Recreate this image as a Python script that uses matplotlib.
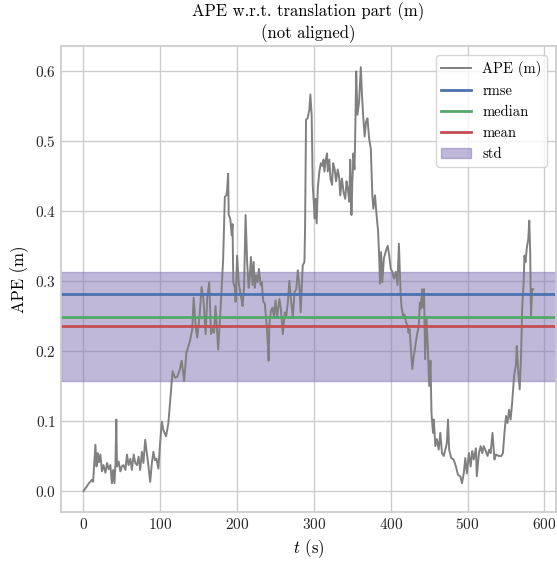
import matplotlib
matplotlib.use("Agg")
import matplotlib.pyplot as plt
import numpy as np

# timestamps (s) and absolute pose error (m)
t = [0, 4, 7, 11, 12.5, 15.5, 17, 18.6, 20, 22, 24, 26, 28.5, 30.7, 32.8, 35, 37, 38.6, 40.3, 41.6,
     42.7, 43.6, 45.8, 48, 50, 52, 54.6, 56.6, 58.7, 61, 63, 65.3, 67.4, 69.6, 71.7, 73.8, 76, 78, 80.3, 82.5,
     84.6, 86.8, 89, 91, 93, 95, 97.5, 99.7, 102, 104, 107.5, 110.5, 112.7, 114.8, 116, 119, 122, 125, 127.8, 131,
     134, 138.6, 141.6, 143.4, 146, 148, 151, 153.7, 156, 159, 161, 163.6, 166, 168, 170, 171.8, 173.5, 175.3, 177.4, 179.6,
     181.8, 184, 186, 187, 188.3, 189, 191, 193, 194, 195, 197, 198, 200, 202, 204, 205.5, 207, 209, 211, 213,
     215, 216, 218, 220, 221.5, 223, 224.7, 226.5, 228.4, 230.5, 232, 234, 236, 238, 239.6, 241, 242, 244, 246, 248,
     250, 252, 255, 257, 259.5, 262, 264, 266, 268, 270, 272.5, 274.7, 277, 279, 281, 282.8, 284, 285.4, 287.6, 288.4,
     289.7, 291.7, 294, 295.3, 297, 298.4, 299.6, 301, 302, 303.5, 305, 307, 309, 311, 312.4, 313.6, 315.4, 317, 318, 320,
     321.5, 323.5, 325, 327, 328.8, 331, 333, 334.2, 336.4, 338.5, 340.7, 342.4, 344, 346, 347.2, 348.8, 350, 351.4, 352.7, 353.5,
     355, 356.6, 358.8, 361, 362.5, 364, 366, 367.8, 369.7, 371.8, 374, 376, 377.3, 379.5, 381, 383.4, 384.7, 386, 387.4, 389,
     391, 394, 396, 398, 400, 402, 404, 406.7, 408.7, 410.6, 412.7, 414, 416, 418, 419.7, 422, 423, 424.5, 426, 428,
     430, 432, 434, 436.5, 437.8, 439, 440.8, 442, 443.3, 444.7, 446.5, 448, 450, 451.7, 453, 455, 456, 458, 460, 462.4,
     464.5, 466.7, 469, 471, 473, 474.5, 476, 478.7, 481.7, 484.8, 487.5, 490.5, 492.7, 495, 497, 499, 501.7, 504, 506, 508,
     510.8, 512, 514.7, 517, 519, 521, 523, 526, 528, 530, 532.4, 535, 537, 540.5, 544, 546, 548, 550, 552, 554,
     556, 558, 560.5, 563, 564, 566, 567.8, 569.6, 571, 573, 574, 575.4, 577, 579, 580.3, 581.5, 582.5, 584, 585.5]

ape = [0.000, 0.006, 0.011, 0.016, 0.013, 0.066, 0.035, 0.054, 0.041, 0.052, 0.028, 0.037, 0.026, 0.040, 0.031, 0.037, 0.011, 0.030, 0.011, 0.039,
       0.102, 0.035, 0.042, 0.028, 0.035, 0.037, 0.030, 0.052, 0.037, 0.046, 0.030, 0.052, 0.040, 0.037, 0.049, 0.030, 0.056, 0.040, 0.073, 0.054,
       0.035, 0.013, 0.040, 0.056, 0.044, 0.046, 0.032, 0.068, 0.099, 0.087, 0.078, 0.097, 0.126, 0.155, 0.171, 0.162, 0.163, 0.172, 0.186, 0.157,
       0.198, 0.214, 0.231, 0.276, 0.235, 0.219, 0.248, 0.291, 0.275, 0.224, 0.275, 0.298, 0.224, 0.231, 0.226, 0.264, 0.236, 0.202, 0.240, 0.284,
       0.331, 0.420, 0.422, 0.430, 0.453, 0.394, 0.389, 0.365, 0.381, 0.298, 0.290, 0.270, 0.336, 0.298, 0.284, 0.275, 0.264, 0.290, 0.394, 0.327,
       0.290, 0.298, 0.334, 0.294, 0.327, 0.290, 0.308, 0.298, 0.317, 0.294, 0.298, 0.270, 0.268, 0.243, 0.217, 0.186, 0.238, 0.257, 0.262, 0.248,
       0.272, 0.248, 0.274, 0.259, 0.224, 0.255, 0.250, 0.269, 0.300, 0.274, 0.248, 0.284, 0.288, 0.315, 0.293, 0.255, 0.288, 0.322, 0.327, 0.372,
       0.530, 0.532, 0.544, 0.566, 0.537, 0.437, 0.415, 0.389, 0.417, 0.382, 0.432, 0.456, 0.468, 0.464, 0.473, 0.456, 0.473, 0.482, 0.456, 0.473,
       0.446, 0.437, 0.468, 0.459, 0.442, 0.459, 0.446, 0.422, 0.446, 0.427, 0.417, 0.442, 0.432, 0.413, 0.473, 0.394, 0.442, 0.482, 0.459, 0.494,
       0.599, 0.537, 0.556, 0.605, 0.566, 0.537, 0.506, 0.527, 0.532, 0.503, 0.489, 0.422, 0.403, 0.422, 0.400, 0.372, 0.341, 0.296, 0.341, 0.298,
       0.332, 0.344, 0.350, 0.336, 0.317, 0.313, 0.303, 0.313, 0.294, 0.353, 0.284, 0.262, 0.250, 0.252, 0.241, 0.236, 0.226, 0.231, 0.207, 0.174,
       0.193, 0.207, 0.222, 0.236, 0.269, 0.260, 0.288, 0.262, 0.288, 0.188, 0.245, 0.212, 0.150, 0.186, 0.111, 0.083, 0.102, 0.064, 0.074, 0.059,
       0.083, 0.054, 0.050, 0.059, 0.068, 0.102, 0.059, 0.047, 0.045, 0.035, 0.023, 0.021, 0.011, 0.025, 0.047, 0.025, 0.054, 0.035, 0.057, 0.045,
       0.061, 0.021, 0.054, 0.064, 0.054, 0.064, 0.059, 0.050, 0.059, 0.054, 0.083, 0.045, 0.052, 0.050, 0.050, 0.054, 0.083, 0.107, 0.097, 0.116,
       0.102, 0.126, 0.164, 0.181, 0.207, 0.170, 0.145, 0.193, 0.260, 0.298, 0.336, 0.327, 0.346, 0.360, 0.386, 0.341, 0.250, 0.288, 0.288]

# summary statistics (m)
rmse = 0.281
median = 0.248
mean = 0.235
std = 0.078

plt.rcParams.update({
    "font.family": "serif",
    "font.serif": ["cmr10"],
    "mathtext.fontset": "cm",
    "axes.formatter.use_mathtext": True,
    "axes.edgecolor": "#cccccc",
    "axes.linewidth": 1.25,
    "grid.color": "#cccccc",
    "grid.linewidth": 1.0,
    "axes.axisbelow": True,
    "xtick.major.size": 0,
    "ytick.major.size": 0,
    "xtick.color": "#262626",
    "ytick.color": "#262626",
    "font.size": 11,
})

fig = plt.figure(figsize=(5.57, 5.63), dpi=100)
ax = fig.add_axes([0.1095, 0.0906, 0.889, 0.8274])

ax.plot(t, ape, color="gray", linewidth=1.4, label="APE (m)")
ax.axhline(rmse, color="#4c72b0", linewidth=2, label="rmse")
ax.axhline(median, color="#55a868", linewidth=2, label="median")
ax.axhline(mean, color="#c44e52", linewidth=2, label="mean")
ax.fill_between(ax.get_xlim(), mean - std, mean + std, color="#8172b2", alpha=0.5, label="std")
ax.set_xlim(-29.3, 615.3)
ax.set_ylim(-0.030, 0.635)

ax.grid(True)
ax.set_xticks(np.arange(0, 601, 100))
ax.set_yticks(np.arange(0, 0.61, 0.1))
ax.set_xlabel("$t$ (s)", fontsize=12)
ax.set_ylabel("APE (m)", fontsize=12)
ax.set_title("APE w.r.t. translation part (m)\n(not aligned)", fontsize=12)
ax.legend(loc="upper right", frameon=True, fontsize=10.5, borderaxespad=0.6)

fig.savefig("out.png", dpi=100)
